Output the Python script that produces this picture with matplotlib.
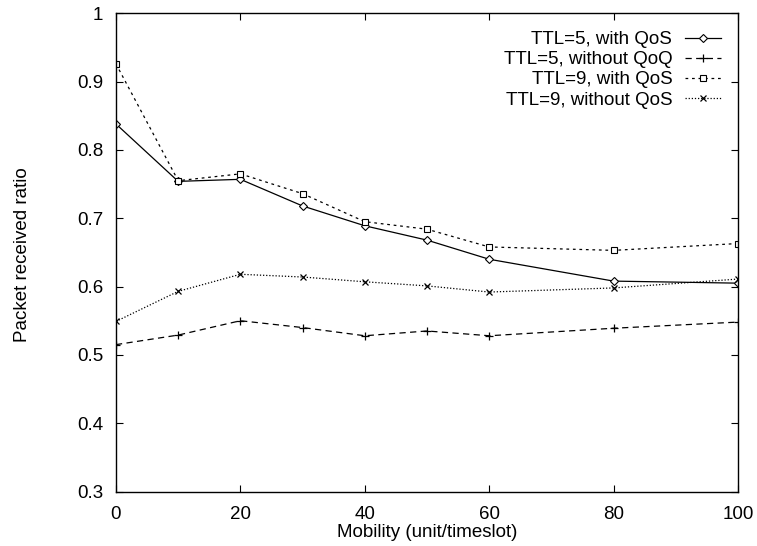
import matplotlib
matplotlib.use("Agg")
import matplotlib.pyplot as plt

plt.rcParams["font.family"] = ["Liberation Sans", "DejaVu Sans"]
plt.rcParams["font.size"] = 13.5

mobility = [0, 10, 20, 30, 40, 50, 60, 80, 100]
ttl5_qos = [0.838, 0.754, 0.757, 0.718, 0.689, 0.668, 0.640, 0.608, 0.605]
ttl5_noqos = [0.515, 0.529, 0.550, 0.540, 0.528, 0.535, 0.528, 0.539, 0.548]
ttl9_qos = [0.926, 0.755, 0.765, 0.736, 0.695, 0.684, 0.658, 0.653, 0.663]
ttl9_noqos = [0.549, 0.593, 0.618, 0.614, 0.607, 0.601, 0.592, 0.598, 0.611]

labels = ["TTL=5, with QoS", "TTL=5, without QoQ",
          "TTL=9, with QoS", "TTL=9, without QoS"]
xticks = [0, 20, 40, 60, 80, 100]
yticks = [0.3, 0.4, 0.5, 0.6, 0.7, 0.8, 0.9, 1.0]
ytick_labels = ["0.3", "0.4", "0.5", "0.6", "0.7", "0.8", "0.9", "1"]

fig = plt.figure(figsize=(7.57, 5.46), dpi=100)
ax = fig.add_axes([0.1532, 0.0998, 0.8217, 0.8758])

lw = 0.9
ax.plot(mobility, ttl5_qos, color="black", lw=lw, ls="-",
        marker="D", ms=3.8, mfc="white", mew=0.8, label=labels[0])
ax.plot(mobility, ttl5_noqos, color="black", lw=lw, ls=(0, (5, 3.5)),
        marker="+", ms=6, mew=0.9, label=labels[1])
ax.plot(mobility, ttl9_qos, color="black", lw=lw, ls=(0, (2.2, 3)),
        marker="s", ms=5, mfc="white", mew=0.8, label=labels[2])
ax.plot(mobility, ttl9_noqos, color="black", lw=lw, ls=(0, (1, 1.5)),
        marker="x", ms=5, mew=0.9, label=labels[3])

ax.set_xlim(0, 100)
ax.set_ylim(0.3, 1.0)
ax.set_xticks(xticks)
ax.set_yticks(yticks)
ax.set_yticklabels(ytick_labels)
ax.tick_params(direction="in", top=True, right=True, length=5, width=0.8)
ax.tick_params(axis="x", pad=10.5)
ax.tick_params(axis="y", pad=9)
for s in ax.spines.values():
    s.set_linewidth(1.0)

ax.set_xlabel("Mobility (unit/timeslot)", labelpad=0.5)
ax.set_ylabel("Packet received ratio")
ax.yaxis.set_label_coords(-0.137, 0.496)

ax.legend(loc="upper right", bbox_to_anchor=(0.9727, 0.963),
          frameon=False, markerfirst=False, borderpad=0, borderaxespad=0,
          handlelength=1.9, handletextpad=0.7, labelspacing=0.16)

fig.savefig("out.png", dpi=100)
